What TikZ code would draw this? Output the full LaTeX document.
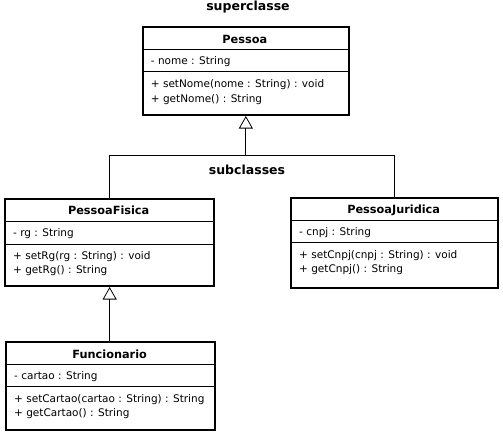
\documentclass[tikz,border=0pt]{standalone}
\usepackage{fontspec}
\setmainfont{DejaVu Sans}
\usetikzlibrary{arrows.meta}
\begin{document}
\begin{tikzpicture}[x=1pt,y=-1pt,
  umlbox/.style={draw,line width=2pt,rectangle,inner sep=0pt,anchor=north west},
  divider/.style={line width=0.8pt},
  title/.style={font=\fontsize{11.3}{13}\selectfont\bfseries,inner sep=0pt},
  member/.style={font=\fontsize{10.5}{12}\selectfont,inner sep=0pt,anchor=west},
  heading/.style={font=\fontsize{12.5}{14}\selectfont\bfseries,inner sep=0pt},
  conn/.style={line width=0.8pt},
  inherit/.style={conn,-{Triangle[open,width=14pt,length=12.5pt,line width=0.8pt]}}]
\useasboundingbox (0,0) rectangle (503,432);
\fill[white] (0,0) rectangle (503,432);
% headings
\node[heading] (sup) at (248,7) {superclasse};
\node[heading] (sub) at (247,170) {subclasses};
% Pessoa
\node[umlbox,minimum width=206.3pt,minimum height=88pt] (pessoa) at (141.7,26) {};
\draw[divider] (141.7,49.3) -- (348,49.3);
\draw[divider] (141.7,71.7) -- (348,71.7);
\node[title] (pt) at (244.85,39) {Pessoa};
\node[member] (pa) at (150.7,61.7) {- nome : String};
\node[member] (pm1) at (150.7,85) {+ setNome(nome : String) : void};
\node[member] (pm2) at (150.7,99.3) {+ getNome() : String};
% PessoaFisica
\node[umlbox,minimum width=209.3pt,minimum height=86.7pt] (pf) at (4,198.3) {};
\draw[divider] (4,221.7) -- (213.3,221.7);
\draw[divider] (4,244.3) -- (213.3,244.3);
\node[title] (pft) at (108.65,210.7) {PessoaFisica};
\node[member] (pfa) at (13,233.3) {- rg : String};
\node[member] (pfm1) at (13,256.7) {+ setRg(rg : String) : void};
\node[member] (pfm2) at (13,271) {+ getRg() : String};
% PessoaJuridica
\node[umlbox,minimum width=207.3pt,minimum height=90pt] (pj) at (290,196.7) {};
\draw[divider] (290,220) -- (497.3,220);
\draw[divider] (290,242.3) -- (497.3,242.3);
\node[title] (pjt) at (393.65,210) {PessoaJuridica};
\node[member] (pja) at (299,232.3) {- cnpj : String};
\node[member] (pjm1) at (299,255.7) {+ setCnpj(cnpj : String) : void};
\node[member] (pjm2) at (299,270) {+ getCnpj() : String};
% Funcionario
\node[umlbox,minimum width=209.3pt,minimum height=88.3pt] (fu) at (5,340.7) {};
\draw[divider] (5,364) -- (214.3,364);
\draw[divider] (5,386.7) -- (214.3,386.7);
\node[title] (fut) at (109.65,354) {Funcionario};
\node[member] (fua) at (14,376.7) {- cartao : String};
\node[member] (fum1) at (14,399.3) {+ setCartao(cartao : String) : String};
\node[member] (fum2) at (14,414) {+ getCartao() : String};
% connectors
\coordinate (j) at (pessoa.south |- 0,155);
\draw[conn] (pf.north) |- (j);
\draw[conn] (pj.north) |- (j);
\draw[inherit] (j) -- (pessoa.south);
\draw[inherit] (fu.north -| pf.south) -- (pf.south);
\end{tikzpicture}
\end{document}
